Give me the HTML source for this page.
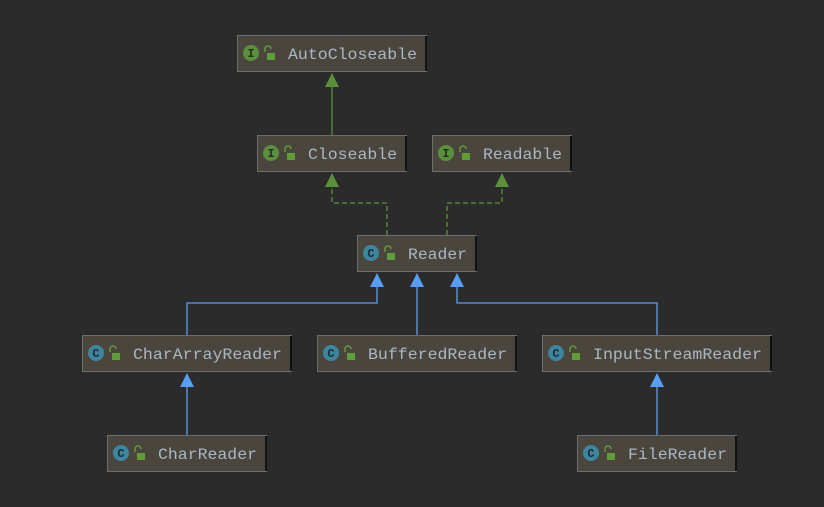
<!DOCTYPE html>
<html><head><meta charset="utf-8"><style>
html,body{margin:0;padding:0;background:#2b2b2b;}
svg{display:block}
text{font-family:"Liberation Mono","DejaVu Sans Mono",monospace;font-size:16px;fill:#a9b7c6;}
</style></head><body>
<svg width="824" height="507" viewBox="0 0 824 507" xmlns="http://www.w3.org/2000/svg">
<rect width="824" height="507" fill="#2b2b2b"/>
<defs>
<g id="lock"><path d="M-5,-6 v-3 a3,3 0 0 1 6,0" fill="none" stroke="#5f9c3a" stroke-width="1.5"/><rect x="-3" y="-5" width="8" height="7" fill="#5f9c3a"/></g>
</defs>
<g fill="none" stroke-width="1.3">
<line x1="332" y1="86" x2="332" y2="135" stroke="#5a8f3c"/>
<polyline points="387,235 387,203 332,203 332,186" stroke="#5a8f3c" stroke-dasharray="5,3"/>
<polyline points="447,235 447,203 502,203 502,186" stroke="#5a8f3c" stroke-dasharray="5,3"/>
<polyline points="187,335 187,303 377,303 377,286" stroke="#589df6"/>
<line x1="417" y1="335" x2="417" y2="286" stroke="#589df6"/>
<polyline points="657,335 657,303 457,303 457,286" stroke="#589df6"/>
<line x1="187" y1="435" x2="187" y2="386" stroke="#589df6"/>
<line x1="657" y1="435" x2="657" y2="386" stroke="#589df6"/>
</g>
<g fill="#5a8f3c">
<polygon points="332,73 325,87 339,87"/>
<polygon points="332,173 325,187 339,187"/>
<polygon points="502,173 495,187 509,187"/>
</g>
<g fill="#589df6">
<polygon points="377,273 370,287 384,287"/>
<polygon points="417,273 410,287 424,287"/>
<polygon points="457,273 450,287 464,287"/>
<polygon points="187,373 180,387 194,387"/>
<polygon points="657,373 650,387 664,387"/>
</g>
<g stroke="#6e6e6e" fill="#4b463d">
<rect x="237.5" y="35.5" width="189" height="36"/>
<rect x="257.5" y="135.5" width="149" height="36"/>
<rect x="432.5" y="135.5" width="139" height="36"/>
<rect x="357.5" y="235.5" width="119" height="36"/>
<rect x="82.5" y="335.5" width="209" height="36"/>
<rect x="317.5" y="335.5" width="199" height="36"/>
<rect x="542.5" y="335.5" width="229" height="36"/>
<rect x="107.5" y="435.5" width="159" height="36"/>
<rect x="577.5" y="435.5" width="159" height="36"/>
</g>
<g fill="#111">
<rect x="425" y="36" width="2" height="35"/><rect x="405" y="136" width="2" height="35"/>
<rect x="570" y="136" width="2" height="35"/><rect x="475" y="236" width="2" height="35"/>
<rect x="290" y="336" width="2" height="35"/><rect x="515" y="336" width="2" height="35"/>
<rect x="770" y="336" width="2" height="35"/><rect x="265" y="436" width="2" height="35"/>
<rect x="735" y="436" width="2" height="35"/>
</g>
<g fill="#5a8f3c">
<circle cx="251" cy="53" r="8"/><circle cx="271" cy="153" r="8"/><circle cx="446" cy="153" r="8"/>
</g>
<g text-anchor="middle">
<text x="251" y="57" style="fill:#24301c;font-size:12px;font-weight:bold">I</text>
<text x="271" y="157" style="fill:#24301c;font-size:12px;font-weight:bold">I</text>
<text x="446" y="157" style="fill:#24301c;font-size:12px;font-weight:bold">I</text>
</g>
<g fill="#3e86a0">
<circle cx="371" cy="253" r="8"/><circle cx="96" cy="353" r="8"/><circle cx="331" cy="353" r="8"/>
<circle cx="556" cy="353" r="8"/><circle cx="121" cy="453" r="8"/><circle cx="591" cy="453" r="8"/>
</g>
<g text-anchor="middle">
<text x="371" y="257" style="fill:#1c2a30;font-size:12px;font-weight:bold">C</text>
<text x="96" y="357" style="fill:#1c2a30;font-size:12px;font-weight:bold">C</text>
<text x="331" y="357" style="fill:#1c2a30;font-size:12px;font-weight:bold">C</text>
<text x="556" y="357" style="fill:#1c2a30;font-size:12px;font-weight:bold">C</text>
<text x="121" y="457" style="fill:#1c2a30;font-size:12px;font-weight:bold">C</text>
<text x="591" y="457" style="fill:#1c2a30;font-size:12px;font-weight:bold">C</text>
</g>
<use href="#lock" x="270" y="58"/><use href="#lock" x="290" y="158"/><use href="#lock" x="465" y="158"/>
<use href="#lock" x="390" y="258"/><use href="#lock" x="115" y="358"/><use href="#lock" x="350" y="358"/>
<use href="#lock" x="575" y="358"/><use href="#lock" x="140" y="458"/><use href="#lock" x="610" y="458"/>
<text x="288" y="59" textLength="129" lengthAdjust="spacingAndGlyphs">AutoCloseable</text>
<text x="308" y="159" textLength="89" lengthAdjust="spacingAndGlyphs">Closeable</text>
<text x="483" y="159" textLength="79" lengthAdjust="spacingAndGlyphs">Readable</text>
<text x="408" y="259" textLength="59" lengthAdjust="spacingAndGlyphs">Reader</text>
<text x="133" y="359" textLength="149" lengthAdjust="spacingAndGlyphs">CharArrayReader</text>
<text x="368" y="359" textLength="139" lengthAdjust="spacingAndGlyphs">BufferedReader</text>
<text x="593" y="359" textLength="169" lengthAdjust="spacingAndGlyphs">InputStreamReader</text>
<text x="158" y="459" textLength="99" lengthAdjust="spacingAndGlyphs">CharReader</text>
<text x="628" y="459" textLength="99" lengthAdjust="spacingAndGlyphs">FileReader</text>
</svg>
</body></html>
